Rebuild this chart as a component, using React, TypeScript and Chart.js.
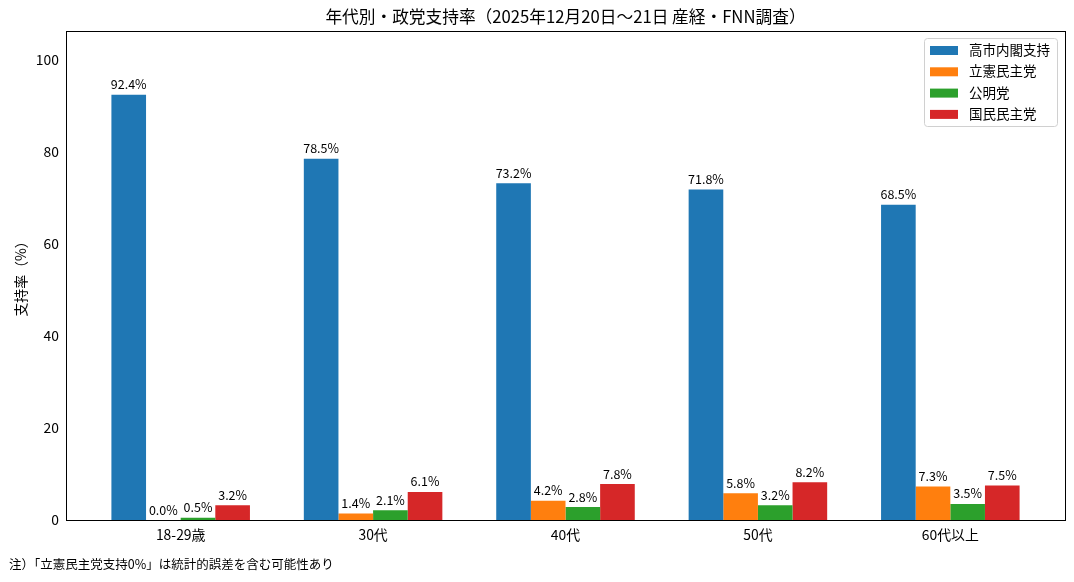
import React, { useEffect, useRef } from 'react';
import { Chart, registerables } from 'chart.js';

Chart.register(...registerables);

const ageGroups = ['18-29歳', '30代', '40代', '50代', '60代以上'];
const seriesNames = ['高市内閣支持', '立憲民主党', '公明党', '国民民主党'];
const cabinetSupport = [92.4, 78.5, 73.2, 71.8, 68.5];
const cdpSupport = [0.0, 1.4, 4.2, 5.8, 7.3];
const komeitoSupport = [0.5, 2.1, 2.8, 3.2, 3.5];
const dppSupport = [3.2, 6.1, 7.8, 8.2, 7.5];
const colors = ['#1f77b4', '#ff7f0e', '#2ca02c', '#d62728'];
const yTicks = [0, 20, 40, 60, 80, 100];

const FONT = '"Noto Sans CJK JP", "Noto Sans", sans-serif';
const BAR_W = 0.18;

const overlay = {
  id: 'overlay',
  afterDatasetsDraw(chart: any) {
    const ctx = chart.ctx;
    const area = chart.chartArea;
    ctx.save();
    // value labels
    ctx.font = `12.5px ${FONT}`;
    ctx.fillStyle = '#000';
    ctx.textAlign = 'center';
    ctx.textBaseline = 'bottom';
    chart.data.datasets.forEach((ds: any, di: number) => {
      const meta = chart.getDatasetMeta(di);
      meta.data.forEach((bar: any, i: number) => {
        const v = ds.data[i].y;
        ctx.fillText(v.toFixed(1) + '%', bar.x, bar.y - 4);
      });
    });
    // frame
    ctx.strokeStyle = '#000';
    ctx.lineWidth = 1;
    ctx.strokeRect(area.left + 0.5, area.top + 0.5, area.right - area.left, area.bottom - area.top);
    // legend
    const lx = area.right - 141;
    const ly = area.top + 7;
    ctx.fillStyle = 'rgba(255,255,255,0.8)';
    ctx.strokeStyle = '#d0d0d0';
    ctx.beginPath();
    ctx.roundRect(lx + 0.5, ly + 0.5, 133, 88, 3);
    ctx.fill();
    ctx.stroke();
    ctx.textAlign = 'left';
    ctx.textBaseline = 'middle';
    ctx.font = `13.5px ${FONT}`;
    seriesNames.forEach((name, i) => {
      const cy = ly + 12 + i * 21.3;
      ctx.fillStyle = colors[i];
      ctx.fillRect(lx + 6, cy - 4, 28, 9);
      ctx.fillStyle = '#000';
      ctx.fillText(name, lx + 45, cy);
    });
    // title
    ctx.textAlign = 'center';
    ctx.font = `16.7px ${FONT}`;
    ctx.fillText('年代別・政党支持率（2025年12月20日〜21日 産経・FNN調査）', (area.left + area.right) / 2, 17);
    // footnote
    ctx.textAlign = 'left';
    ctx.font = `12.5px ${FONT}`;
    ctx.fillText('注）「立憲民主党支持0%」は統計的誤差を含む可能性あり', 9, 564);
    ctx.restore();
  },
};

export default function App() {
  const canvasRef = useRef<HTMLCanvasElement | null>(null);

  useEffect(() => {
    const canvas = canvasRef.current;
    if (!canvas) return;
    document.body.style.margin = '0';
    const all = [cabinetSupport, cdpSupport, komeitoSupport, dppSupport];
    const chart = new Chart(canvas, {
      type: 'bar',
      data: {
        datasets: all.map((vals, si) => ({
          label: seriesNames[si],
          data: vals.map((y, i) => ({ x: i, y })),
          backgroundColor: colors[si],
          categoryPercentage: BAR_W * 4,
          barPercentage: 1,
        })),
      },
      options: {
        animation: false,
        responsive: false,
        devicePixelRatio: 1,
        layout: { padding: { left: 0, right: 9, top: 31, bottom: 0 } },
        plugins: { legend: { display: false }, tooltip: { enabled: false }, title: { display: false } },
        scales: {
          x: {
            type: 'linear',
            min: -0.596,
            max: 4.596,
            offset: false,
            grid: { display: false, drawTicks: true, tickLength: 4, color: '#000' },
            border: { display: false },
            afterBuildTicks: (scale: any) => {
              scale.ticks = ageGroups.map((_, i) => ({ value: i }));
            },
            ticks: {
              color: '#000',
              font: { family: FONT, size: 13.9 },
              padding: 2,
              maxRotation: 0,
              autoSkip: false,
              callback: (v: any) => ageGroups[v] ?? '',
            },
            afterFit: (scale: any) => {
              scale.height = 62;
            },
          },
          y: {
            min: 0,
            max: 92.4 * 1.15,
            grid: { display: false, drawTicks: true, tickLength: 4, color: '#000' },
            border: { display: false },
            afterBuildTicks: (scale: any) => {
              scale.ticks = yTicks.map((v) => ({ value: v }));
            },
            ticks: {
              color: '#000',
              font: { family: FONT, size: 13.9 },
              padding: 3,
            },
            title: {
              display: true,
              text: '支持率（%）',
              color: '#000',
              font: { family: FONT, size: 13.9 },
              padding: { top: 12, bottom: 0 },
            },
            afterFit: (scale: any) => {
              scale.width = 66;
            },
          },
        },
      },
      plugins: [overlay],
    } as any);
    return () => chart.destroy();
  }, []);

  return (
    <div style={{ width: 1074, height: 582, background: '#fff' }}>
      <canvas ref={canvasRef} width={1074} height={582} />
    </div>
  );
}
